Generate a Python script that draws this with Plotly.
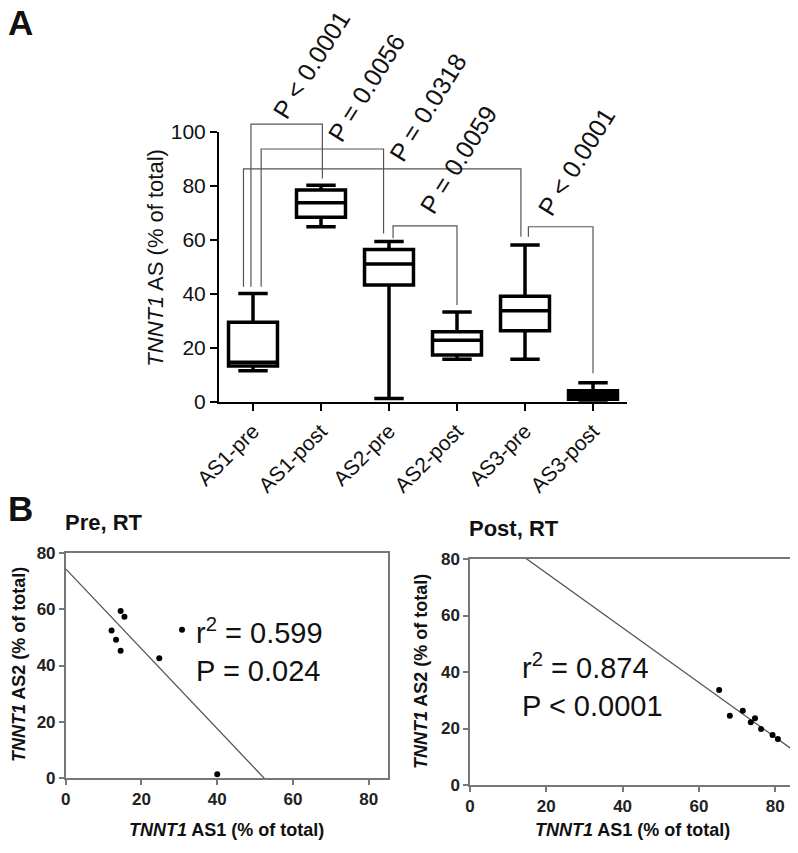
import numpy as np
import plotly.graph_objects as go

# The page body has an 8px margin; the figure is sized to fit the 798x853 window.
WIN_W, WIN_H, OFF = 798, 853, 8
W, H = WIN_W - OFF, WIN_H - OFF
FONT = "Liberation Sans, Arial, sans-serif"

# ---------------- Panel A data ----------------
categories = ["AS1-pre", "AS1-post", "AS2-pre", "AS2-post", "AS3-pre", "AS3-post"]
box_min = [11.5, 64.8, 1.2, 15.7, 15.7, 0.0]
box_q1 = [13.2, 68.3, 43.2, 17.3, 26.3, 0.9]
box_median = [14.6, 73.7, 51.0, 22.8, 33.7, 2.5]
box_q3 = [29.4, 78.4, 56.4, 25.9, 39.1, 4.1]
box_max = [40.1, 80.2, 59.3, 33.2, 58.0, 7.0]

p_labels = ["P < 0.0001", "P = 0.0056", "P = 0.0318", "P = 0.0059", "P < 0.0001"]
comparisons = [(0, 1), (0, 2), (0, 4), (2, 3), (4, 5)]

# ---------------- Panel B data ----------------
pre_as1 = [14.5, 15.5, 12.1, 13.3, 14.5, 24.7, 30.7, 40.0]
pre_as2 = [59.3, 57.3, 52.4, 49.1, 45.2, 42.6, 52.7, 1.4]
post_as1 = [65.3, 68.1, 71.5, 73.6, 74.7, 76.3, 79.3, 80.7]
post_as2 = [33.6, 24.5, 26.3, 22.2, 23.6, 19.8, 17.7, 16.3]
pre_stats = "r<sup>2</sup> = 0.599<br>P = 0.024"
post_stats = "r<sup>2</sup> = 0.874<br>P < 0.0001"
scatter_ticks = [0, 20, 40, 60, 80]
box_ticks = [0, 20, 40, 60, 80, 100]

# style: the very short AS3-post box renders as a solid black block
box_fill = ["white", "white", "white", "white", "white", "black"]


def px_x(p):
    return (p - OFF) / W


def px_y(p):
    return 1 - (p - OFF) / H


fig = go.Figure()

for k, cat in enumerate(categories):
    fig.add_trace(go.Box(
        x=[cat], q1=[box_q1[k]], median=[box_median[k]], q3=[box_q3[k]],
        lowerfence=[box_min[k]], upperfence=[box_max[k]],
        width=0.72, whiskerwidth=0.6,
        line=dict(color="black", width=3.5), fillcolor=box_fill[k],
        boxpoints=False, showlegend=False, xaxis="x", yaxis="y",
    ))

# regression lines and points (fit computed from the data)
line_x = np.array([0.0, 85.0])
for xs, ys, xa, ya in [(pre_as1, pre_as2, "x2", "y2"), (post_as1, post_as2, "x3", "y3")]:
    slope, icpt = np.polyfit(xs, ys, 1)
    fig.add_trace(go.Scatter(x=line_x, y=slope * line_x + icpt, mode="lines",
                             line=dict(color="#555", width=1.3), showlegend=False,
                             xaxis=xa, yaxis=ya, hoverinfo="skip"))
    fig.add_trace(go.Scatter(x=xs, y=ys, mode="markers",
                             marker=dict(color="black", size=6), showlegend=False,
                             xaxis=xa, yaxis=ya, cliponaxis=False))

# ---------- axes ----------
yA_dom = [px_y(401.7), px_y(131.7)]
xA_dom = [px_x(219), px_x(627)]
fig.update_layout(
    xaxis=dict(domain=xA_dom, anchor="y", type="category", range=[-0.5, 5.5],
               categoryorder="array", categoryarray=categories,
               showline=True, linecolor="black", linewidth=2, automargin=False,
               ticks="outside", ticklen=7, tickwidth=2, tickcolor="black",
               tickangle=-45, tickfont=dict(family=FONT, size=21, color="#111"),
               showgrid=False, zeroline=False),
    yaxis=dict(domain=yA_dom, anchor="x", range=[0, 100], tickvals=box_ticks,
               showline=True, linecolor="black", linewidth=2, automargin=False,
               ticks="outside", ticklen=7, tickwidth=2, tickcolor="black",
               tickfont=dict(family=FONT, size=21, color="#111"),
               showgrid=False, zeroline=False),
    boxmode="overlay",
)

scatter_axis = dict(range=[0, 85], tickvals=scatter_ticks, showline=True, mirror=True,
                    linecolor="#777", linewidth=1.5, ticks="outside", ticklen=5,
                    tickcolor="#777", tickwidth=1.5, automargin=False,
                    tickfont=dict(family=FONT, size=17, color="#222", weight="bold"),
                    showgrid=False, zeroline=False)
scatter_yaxis = dict(scatter_axis, range=[0, 80])

fig.update_layout(
    xaxis2=dict(scatter_axis, domain=[px_x(65.7), px_x(387.7)], anchor="y2"),
    yaxis2=dict(scatter_yaxis, domain=[px_y(778.3), px_y(552.7)], anchor="x2"),
    xaxis3=dict(scatter_axis, domain=[px_x(470), px_x(794.3)], anchor="y3"),
    yaxis3=dict(scatter_yaxis, domain=[px_y(785), px_y(559)], anchor="x3"),
)

# ---------- significance brackets (x domain / y domain of panel A) ----------
n_cat = len(categories)
bracket_style = [  # (left offset, right offset, top, left leg end, right leg end)
    (-0.03, 0.02, 102.8, 42.6, 82.7),
    (0.12, -0.08, 93.6, 42.6, 62.3),
    (-0.14, -0.06, 86.2, 42.6, 61.1),
    (0.06, 0.0, 65.1, 60.5, 35.8),
    (0.05, 0.0, 64.8, 61.1, 10.5),
]
shapes = []
for (i, j), (lo, ro, top, lb, rb) in zip(comparisons, bracket_style):
    xl = (i + lo + 0.5) / n_cat
    xr = (j + ro + 0.5) / n_cat
    path = f"M {xl} {lb/100} L {xl} {top/100} L {xr} {top/100} L {xr} {rb/100}"
    shapes.append(dict(type="path", path=path, xref="x domain", yref="y domain",
                       line=dict(color="#555", width=1.2)))
fig.update_layout(shapes=shapes)

# ---------- annotations ----------
ann = []
label_centers = [(311, 65), (366, 88), (428, 107), (458, 160), (576, 162)]
for txt, (cx, cy) in zip(p_labels, label_centers):
    ann.append(dict(text=txt, x=px_x(cx), y=px_y(cy), xref="paper", yref="paper",
                    showarrow=False, textangle=-58, xanchor="center", yanchor="middle",
                    font=dict(family=FONT, size=25, color="#111")))

ann += [
    dict(text="<b>A</b>", x=px_x(20), y=px_y(23), font=dict(size=35)),
    dict(text="<b>B</b>", x=px_x(20), y=px_y(508), font=dict(size=35)),
    dict(text="<i>TNNT1</i> AS (% of total)", x=px_x(155.7), y=px_y(258), textangle=-90,
         font=dict(size=22)),
    dict(text="<b>Pre, RT</b>", x=px_x(104), y=px_y(522), font=dict(size=22)),
    dict(text="<b>Post, RT</b>", x=px_x(514), y=px_y(528), font=dict(size=22)),
    dict(text="<b><i>TNNT1</i> AS2 (% of total)</b>", x=px_x(19), y=px_y(665), textangle=-90,
         font=dict(size=18)),
    dict(text="<b><i>TNNT1</i> AS1 (% of total)</b>", x=px_x(226), y=px_y(830),
         font=dict(size=18)),
    dict(text="<b><i>TNNT1</i> AS2 (% of total)</b>", x=px_x(421), y=px_y(672), textangle=-90,
         font=dict(size=18)),
    dict(text="<b><i>TNNT1</i> AS1 (% of total)</b>", x=px_x(632), y=px_y(830),
         font=dict(size=18)),
    dict(text=pre_stats, x=px_x(194), y=px_y(650), xanchor="left", align="left",
         font=dict(size=29)),
    dict(text=post_stats, x=px_x(520), y=px_y(685), xanchor="left", align="left",
         font=dict(size=29)),
]
for a in ann[len(p_labels):]:
    a.setdefault("xref", "paper")
    a.setdefault("yref", "paper")
    a.setdefault("showarrow", False)
    a.setdefault("xanchor", "center")
    a.setdefault("yanchor", "middle")
    a.setdefault("align", "center")
    a["font"] = dict(family=FONT, color="#111", **a["font"])

fig.update_layout(
    annotations=ann,
    width=W, height=H, margin=dict(l=0, r=0, t=0, b=0, autoexpand=False),
    paper_bgcolor="white", plot_bgcolor="white",
    font=dict(family=FONT, color="#111"),
    showlegend=False,
)

fig.write_html("out.html")
